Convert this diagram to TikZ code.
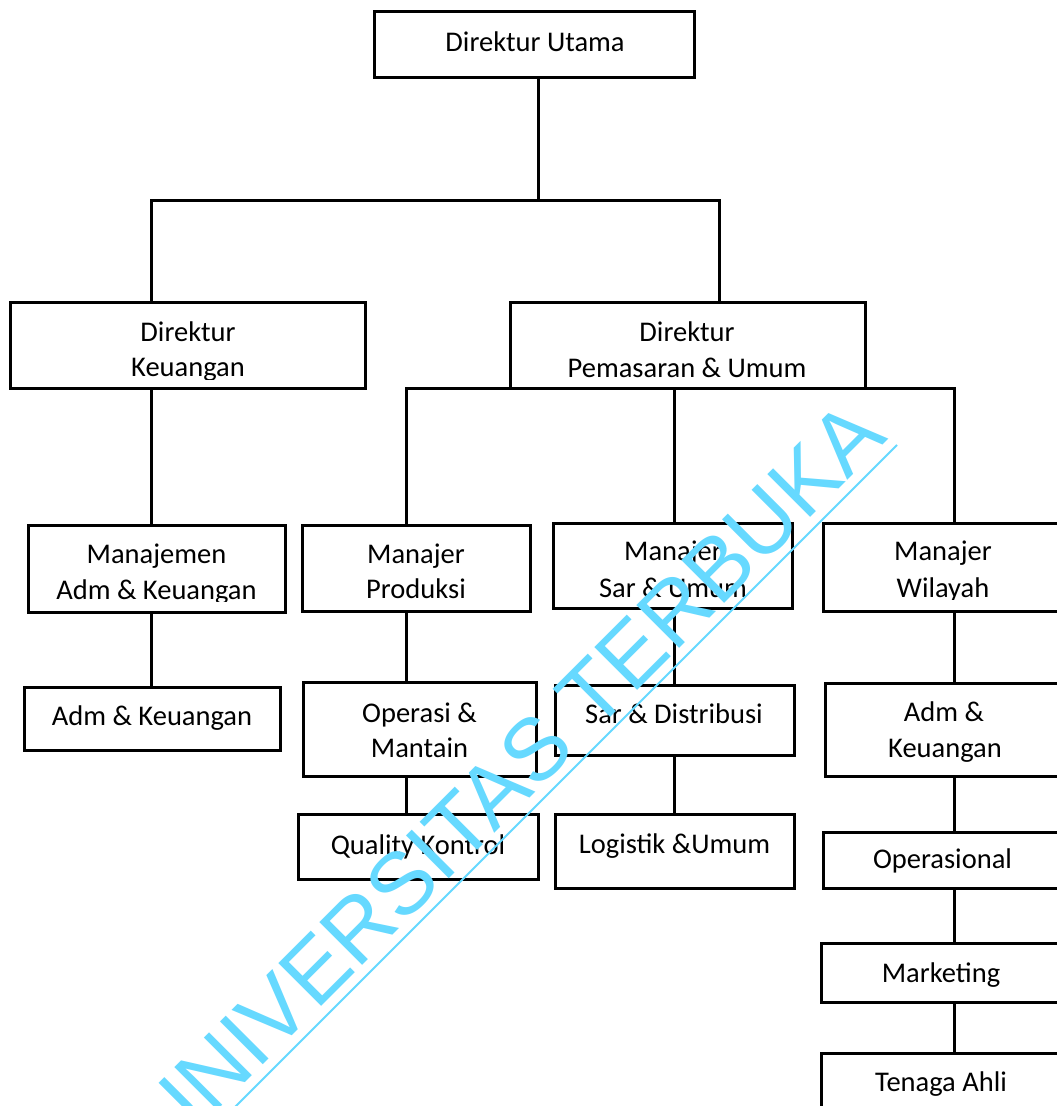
\documentclass[tikz,border=0pt]{standalone}
\usepackage{fontspec}
\setmainfont{Carlito}
\newfontfamily\wmfont{Liberation Sans}
\definecolor{wmblue}{RGB}{102,217,255}
\tikzset{
  orgbox/.style={draw=black, line width=3pt, rectangle, inner sep=0pt, fill=none},
  lbl/.style={anchor=base, inner sep=0pt, font=\fontsize{28.5}{34}\selectfont, text=black},
  link/.style={draw=black, line width=3pt},
  wmtext/.style={text=wmblue, font=\wmfont\fontsize{88}{88}\selectfont, inner sep=0pt},
  wmline/.style={draw=wmblue, line width=2pt}
}
\newcommand{\orgbox}[5]{%
  \node[orgbox, minimum width={(#4-#2)*1pt}, minimum height={(#5-#3)*1pt}] (#1) at ({(#2+#4)/2},{(#3+#5)/2}) {};}
\begin{document}
\begin{tikzpicture}[x=1pt,y=-1pt]
\useasboundingbox (0,0) rectangle (1057,1106);
\fill[white] (0,0) rectangle (1057,1106);
\clip (0,0) rectangle (1057,1106);

% boxes
\orgbox{du}{374}{11}{694}{77}
\orgbox{dk}{10}{302}{365}{388}
\orgbox{dp}{510}{302}{865}{388}
\orgbox{mk}{28}{525}{285}{612}
\orgbox{mp}{302}{525}{530}{611}
\orgbox{ms}{553}{523}{792}{608}
\orgbox{mw}{823}{523}{1063}{611}
\orgbox{ak}{24}{687}{280}{750}
\orgbox{om}{303}{682}{536}{776}
\orgbox{qk}{298}{814}{538}{879}
\orgbox{sd}{555}{685}{794}{755}
\orgbox{lu}{555}{814}{794}{888}
\orgbox{akw}{825}{683}{1065}{776}
\orgbox{op}{823}{832}{1062}{888}
\orgbox{mkt}{821}{943}{1061}{1002}
\orgbox{ta}{821}{1053}{1061}{1130}

% texts
\node[lbl] (du-t) at (535,51) {Direktur Utama};
\node[lbl] (dk-t1) at (188,341) {Direktur};
\begin{scope}
\clip (12,304) rectangle (363,379);
\node[lbl] (dk-t2) at (188,376) {Keuangan};
\end{scope}
\node[lbl] (dp-t1) at (687,341) {Direktur};
\node[lbl] (dp-t2) at (687,377) {Pemasaran \& Umum};
\node[lbl] (mk-t1) at (156.5,563) {Manajemen};
\begin{scope}
\clip (30,527) rectangle (283,601.5);
\node[lbl] (mk-t2) at (156.5,599) {Adm \& Keuangan};
\end{scope}
\node[lbl] (mp-t1) at (416,563) {Manajer};
\node[lbl] (mp-t2) at (416,598) {Produksi};
\node[lbl] (ms-t1) at (673,560) {Manajer};
\node[lbl] (ms-t2) at (673,597) {Sar \& Umum};
\node[lbl] (mw-t1) at (943,560) {Manajer};
\begin{scope}
\clip (825,525) rectangle (1061,599.5);
\node[lbl] (mw-t2) at (943,597) {Wilayah};
\end{scope}
\node[lbl] (ak-t) at (152,725) {Adm \& Keuangan};
\node[lbl] (om-t1) at (419.5,722) {Operasi \&};
\node[lbl] (om-t2) at (419.5,757) {Mantain};
\node[lbl] (qk-t) at (418,854) {Quality Kontrol};
\node[lbl] (sd-t) at (674,723) {Sar \& Distribusi};
\node[lbl] (lu-t) at (674.5,853) {Logistik \&Umum};
\node[lbl] (akw-t1) at (944,721) {Adm \&};
\node[lbl] (akw-t2) at (945,757) {Keuangan};
\node[lbl] (op-t) at (942.5,868) {Operasional};
\node[lbl] (mkt-t) at (941,982) {Marketing};
\node[lbl] (ta-t) at (941,1091) {Tenaga Ahli};

% connector columns and junctions
\coordinate (j0) at (538,200);
\coordinate (jl) at (151,200);
\coordinate (jr) at (719,200);
\coordinate (c1) at (406,388);
\coordinate (c2) at (674,388);
\coordinate (c3) at (954,388);

\draw[link] (j0 |- du.south) -- (j0);
\draw[link] (jl |- dk.north) -- (jl) -- (jr) -- (jr |- dp.north);
\draw[link] (c1 |- mp.north) -- (c1) -- (c3) -- (c3 |- mw.north);
\draw[link] (c2) -- (c2 |- ms.north);
\draw[link] (jl |- dk.south) -- (jl |- mk.north);
\draw[link] (jl |- mk.south) -- (jl |- ak.north);
\draw[link] (c1 |- mp.south) -- (c1 |- om.north);
\draw[link] (c1 |- om.south) -- (c1 |- qk.north);
\draw[link] (c2 |- ms.south) -- (c2 |- sd.north);
\draw[link] (c2 |- sd.south) -- (c2 |- lu.north);
\draw[link] (c3 |- mw.south) -- (c3 |- akw.north);
\draw[link] (c3 |- akw.south) -- (c3 |- op.north);
\draw[link] (c3 |- op.south) -- (c3 |- mkt.north);
\draw[link] (c3 |- mkt.south) -- (c3 |- ta.north);

% watermark
\node[wmtext, rotate=45, anchor=base east] (wm) at (889,439) {UNIVERSITAS TERBUKA};
\coordinate (u1) at (897,445);
\coordinate (u2) at (180,1162);
\draw[wmline] (u1) -- (u2);
\end{tikzpicture}
\end{document}
